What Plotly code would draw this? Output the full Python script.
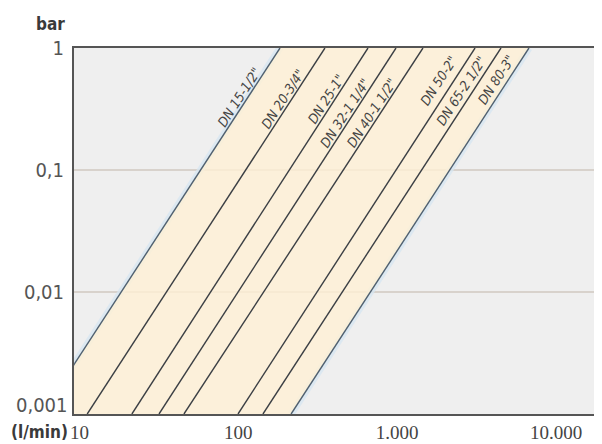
import math
import plotly.graph_objects as go

# ---- data ----
sizes = ['DN 15-1/2"', 'DN 20-3/4"', 'DN 25-1"', 'DN 32-1 1/4"',
         'DN 40-1 1/2"', 'DN 50-2"', 'DN 65-2 1/2"', 'DN 80-3"']
flow_at_0001bar = [5.8, 11.2, 21.4, 31.7, 45.5, 99.6, 143, 215]      # l/min at 0.001 bar
flow_at_1bar = [183, 351, 655, 983, 1453, 3090, 4500, 6750]          # l/min at 1 bar
p_low = 0.001
p_high = 1.0

label_pressure = [0.368, 0.354, 0.354, 0.272, 0.272, 0.47, 0.40, 0.49]
label_gap = [8, 8, 8, 8, 8, 13, 10, 10]

x_ticks = [10, 100, 1000, 10000]
x_ticktext = ["10", "100", "1.000", "10.000"]
y_ticks = [0.01, 0.1, 1]
y_ticktext = ["0,01", "0,1", "1"]
y_bottom_text = "0,001"

# ---- style ----
BG = "#efefef"
FILL = "rgba(255,240,213,0.8)"
LINE = "#3b3f44"
EDGE = "#4f6070"
HALO = "rgba(214,229,242,0.75)"
SANS = "DejaVu Sans Condensed, Liberation Sans, sans-serif"

fig = go.Figure()

# light blue halos on the outer side of the extreme lines
for i in (0, len(sizes) - 1):
    fig.add_trace(go.Scatter(x=[flow_at_0001bar[i], flow_at_1bar[i]], y=[p_low, p_high],
                             mode="lines", line=dict(color=HALO, width=7),
                             hoverinfo="skip", showlegend=False))

# orange band between first and last line
fig.add_trace(go.Scatter(
    x=[flow_at_0001bar[0], flow_at_1bar[0], flow_at_1bar[-1], flow_at_0001bar[-1]],
    y=[p_low, p_high, p_high, p_low],
    mode="lines", fill="toself", fillcolor=FILL, line=dict(width=0),
    hoverinfo="skip", showlegend=False))

for i, name in enumerate(sizes):
    col = EDGE if i in (0, len(sizes) - 1) else LINE
    fig.add_trace(go.Scatter(x=[flow_at_0001bar[i], flow_at_1bar[i]], y=[p_low, p_high],
                             mode="lines", line=dict(color=col, width=1.4),
                             name=name, showlegend=False))

# rotated labels along each line
ang = 57.0
px_perp_x = -math.sin(math.radians(ang))
px_perp_y = math.cos(math.radians(ang))
for i, name in enumerate(sizes):
    lq0, lq1 = math.log10(flow_at_0001bar[i]), math.log10(flow_at_1bar[i])
    t = (math.log10(label_pressure[i]) - math.log10(p_low)) / (math.log10(p_high) - math.log10(p_low))
    xq = 10 ** (lq0 + t * (lq1 - lq0))
    fig.add_annotation(x=math.log10(xq), y=math.log10(label_pressure[i]),
                       text=name, showarrow=False, textangle=-ang,
                       xanchor="center", yanchor="middle",
                       xshift=px_perp_x * label_gap[i], yshift=px_perp_y * label_gap[i],
                       font=dict(family=SANS, size=13.5, color="#454545", style="italic"))

# bottom y label sits just above the axis corner
fig.add_annotation(x=0.0, y=math.log10(p_low), xref="paper", yref="y", text=y_bottom_text,
                   showarrow=False, xanchor="right", yanchor="bottom",
                   xshift=-4, yshift=-5,
                   font=dict(family=SANS, size=20, color="#555555"))

fig.add_annotation(x=0.0, y=1.0, xref="paper", yref="paper", text="<b>bar</b>",
                   showarrow=False, xanchor="right", yanchor="bottom",
                   xshift=-7, yshift=12,
                   font=dict(family=SANS, size=17, color="#3a3a3a"))
fig.add_annotation(x=0.0, y=0.0, xref="paper", yref="paper", text="<b>(l/min)</b>",
                   showarrow=False, xanchor="right", yanchor="top",
                   xshift=-4, yshift=-6,
                   font=dict(family=SANS, size=17, color="#3a3a3a"))

fig.update_xaxes(type="log", range=[0.966, 4.245], tickvals=x_ticks, ticktext=x_ticktext,
                 showgrid=False, zeroline=False, showline=True, linecolor="#555555",
                 linewidth=2, mirror=True, ticks="", automargin=False,
                 tickfont=dict(family="Liberation Serif", size=19, color="#444444"))
fig.update_yaxes(type="log", range=[-3, 0], tickvals=y_ticks, ticktext=y_ticktext,
                 showgrid=True, gridcolor="#d8d2cc", gridwidth=1.5, zeroline=False,
                 showline=True, linecolor="#555555", linewidth=2, mirror=True, ticks="",
                 automargin=False, ticklabelstandoff=4,
                 tickfont=dict(family=SANS, size=20, color="#555555"))

# the page body adds an 8px offset, so the figure is 8px smaller than the window
fig.update_layout(width=594, height=436, margin=dict(l=66, r=7, t=40, b=30),
                  paper_bgcolor="white", plot_bgcolor=BG, showlegend=False)

fig.write_html("out.html")
